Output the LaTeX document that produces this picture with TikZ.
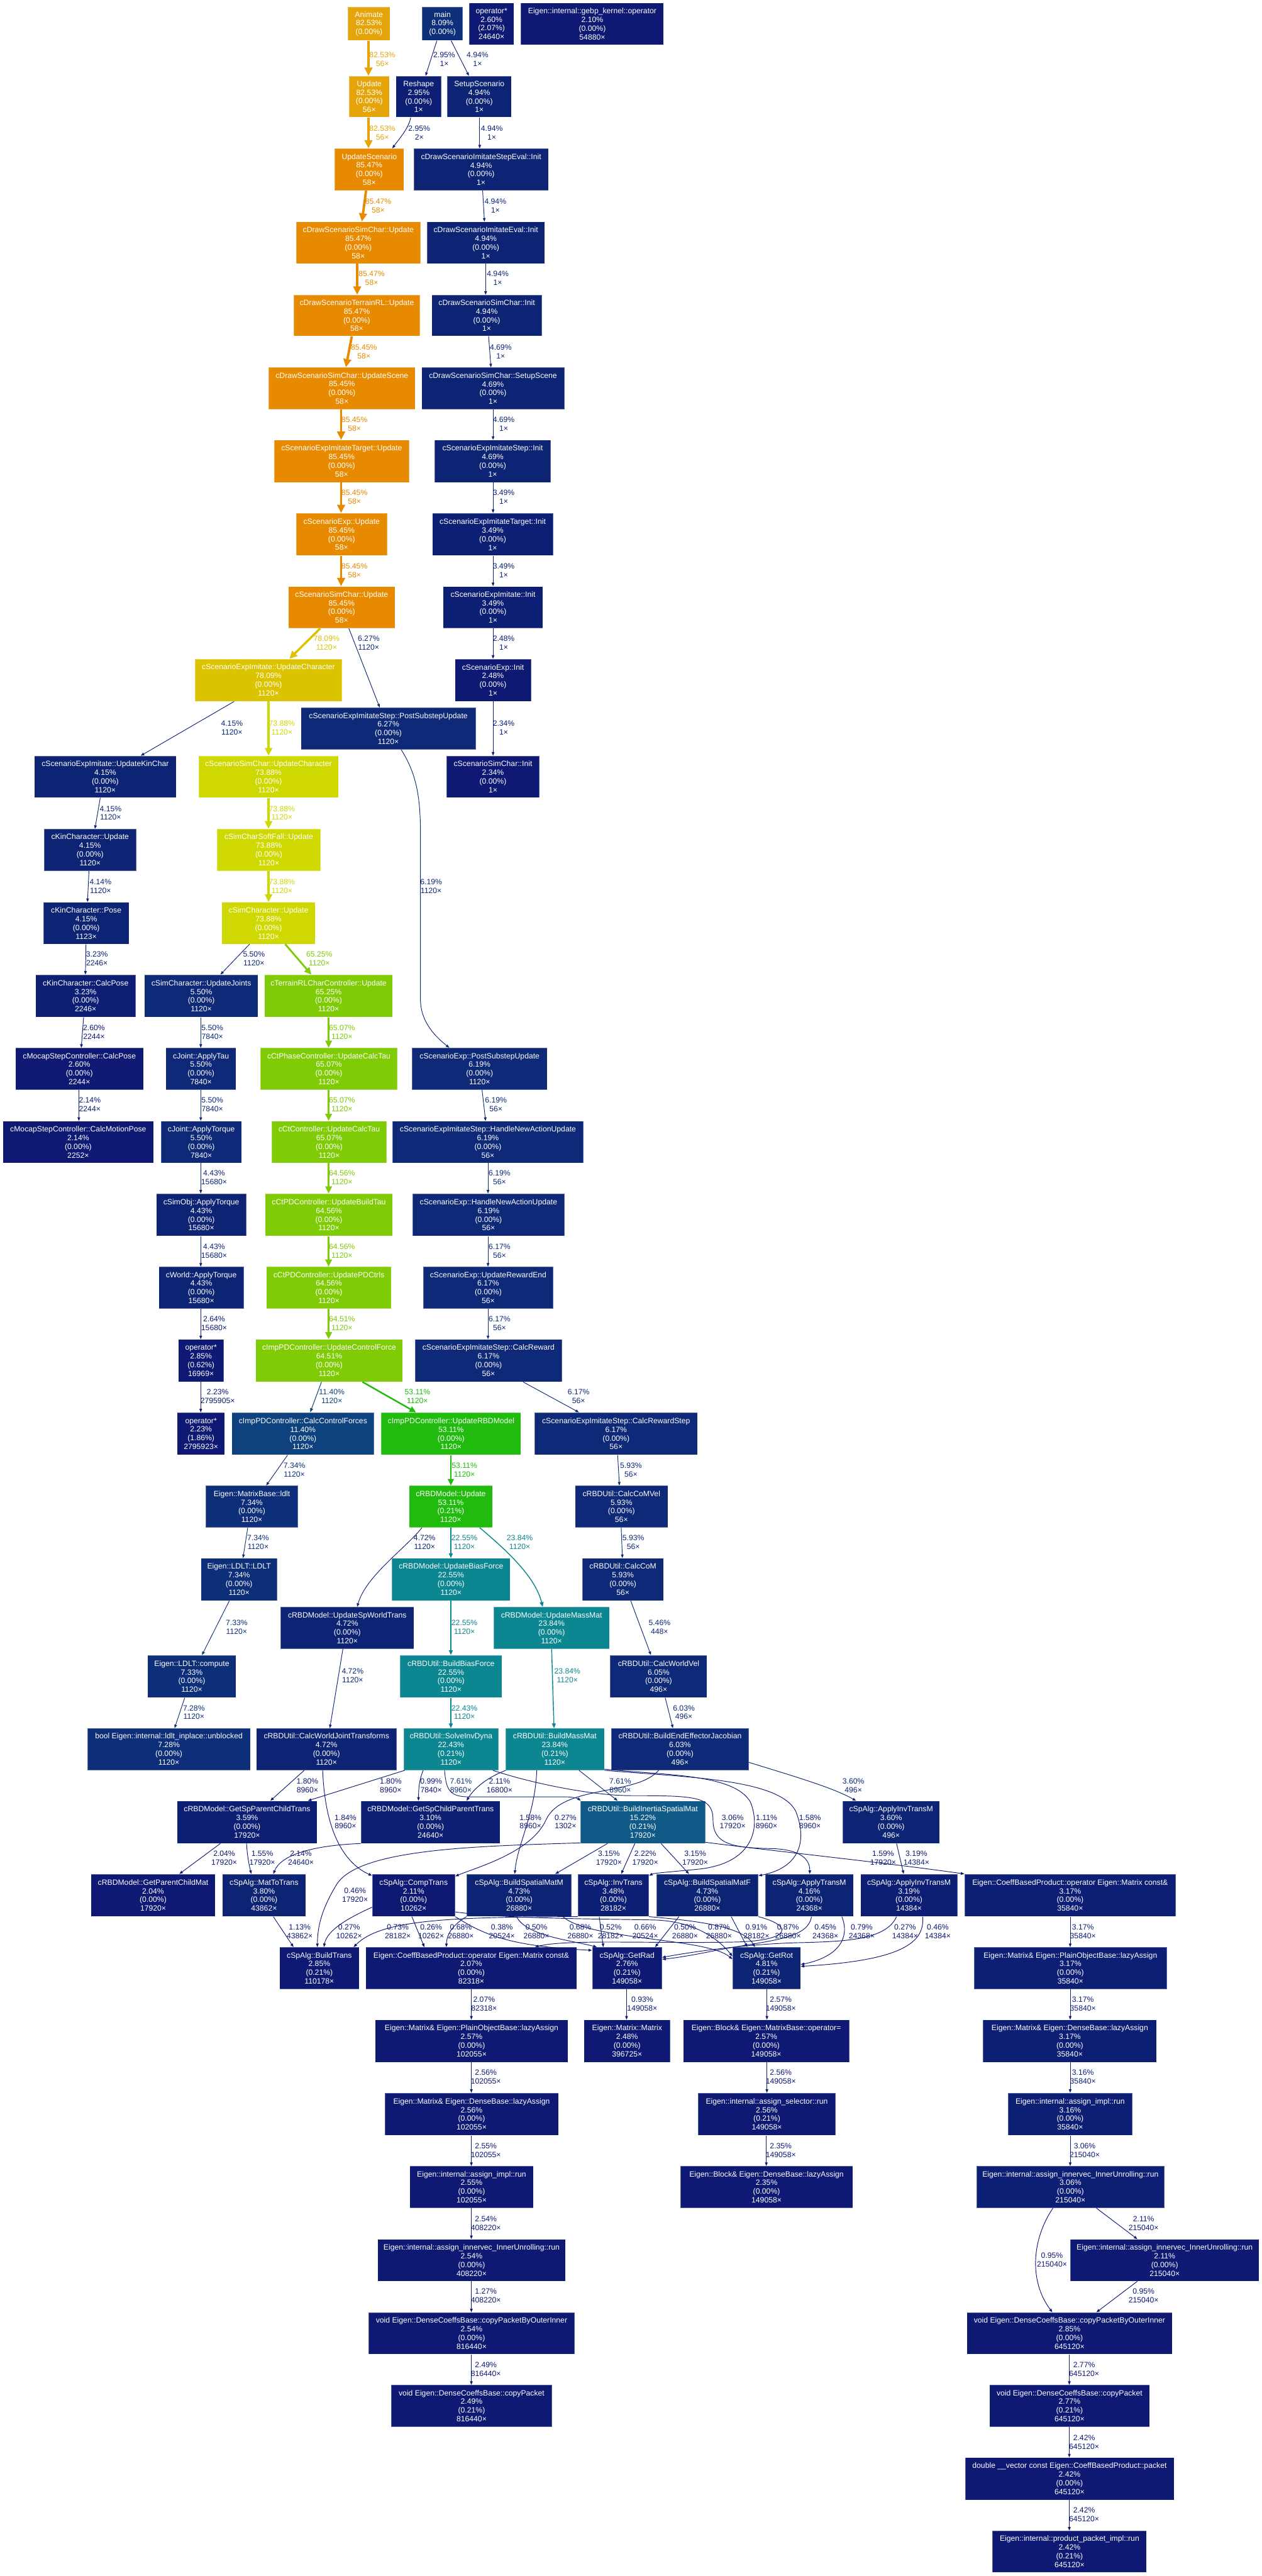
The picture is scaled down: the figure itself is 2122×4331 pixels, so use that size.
\documentclass[tikz,border=0pt]{standalone}
\usepackage{fontspec}
\setmainfont{Liberation Sans}
\usetikzlibrary{arrows.meta}
\definecolor{c82}{HTML}{E5A50A}
\definecolor{c85}{HTML}{E88A00}
\definecolor{c78}{HTML}{DCC300}
\definecolor{c74}{HTML}{CFD800}
\definecolor{c65}{HTML}{7FCB05}
\definecolor{c53}{HTML}{20BB0C}
\definecolor{c23}{HTML}{0C8690}
\definecolor{c15}{HTML}{0F5A86}
\definecolor{c11}{HTML}{0E427E}
\definecolor{cA}{HTML}{0D2F79}
\definecolor{cB}{HTML}{0D2977}
\definecolor{cC}{HTML}{0D2475}
\definecolor{cD}{HTML}{0D1F74}
\definecolor{cE}{HTML}{0D1973}
\newcommand\gfont{\fontsize{12.9}{14.7}\selectfont}
\newcommand\gtxt[4]{#1\\#2\%\\(#3\%)\\#4×}
\newcommand\gbox[7]{\node[gnode,fill=#6,minimum width={(#4-#2)*1pt},minimum height={(#5-#3)*1pt}] (#1) at ({(#2+#4)/2},{(#3+#5)/2}) {#7};}
\newcommand\glab[5]{\node[elab,text=#2] (#1) at (#3) {#4\%\\#5×};}
\tikzset{
 gnode/.style={rectangle,inner sep=0pt,text=white,align=center,font=\gfont,draw=white,draw opacity=0.3,line width=0.8pt},
 elab/.style={inner sep=0pt,align=center,font=\gfont},
 ej/.style={draw=#1,line width=1pt,-{Triangle[length=6pt,width=4.5pt]}},
 eA/.style={draw=c82,line width=3.8pt,-{Triangle[length=14pt,width=13pt]}},
 eB/.style={draw=c85,line width=4pt,-{Triangle[length=14pt,width=13pt]}},
 eC/.style={draw=c78,line width=3.6pt,-{Triangle[length=13pt,width=12pt]}},
 eD/.style={draw=c74,line width=3.4pt,-{Triangle[length=13pt,width=12pt]}},
 eE/.style={draw=c65,line width=3pt,-{Triangle[length=12pt,width=11pt]}},
 eF/.style={draw=c53,line width=2.6pt,-{Triangle[length=11pt,width=10pt]}},
 eG/.style={draw=c23,line width=1.5pt,-{Triangle[length=8pt,width=6.5pt]}},
 eH/.style={draw=c11,line width=1.1pt,-{Triangle[length=7pt,width=5pt]}},
}
\begin{document}
\begin{tikzpicture}[x=1pt,y=-1pt]
\fill[white] (0,0) rectangle (2122,4331);
\useasboundingbox (0,0) rectangle (2122,4331);
% ---------- nodes ----------
\gbox{nAnim}{585}{12}{656}{68}{c82}{Animate\\82.53\%\\(0.00\%)}
\gbox{nMain}{710}{12}{778}{68}{cA}{main\\8.09\%\\(0.00\%)}
\gbox{nOpA}{789}{5}{864}{75}{cE}{\gtxt{operator*}{2.60}{2.07}{24640}}
\gbox{nGebp}{876}{5}{1116}{75}{cE}{\gtxt{Eigen::internal::gebp\_kernel::operator}{2.10}{0.00}{54880}}
\gbox{nUpd}{587}{128}{655}{197}{c82}{\gtxt{Update}{82.53}{0.00}{56}}
\gbox{nResh}{666}{128}{742}{197}{cD}{\gtxt{Reshape}{2.95}{0.00}{1}}
\gbox{nSetup}{752}{128}{860}{197}{cC}{\gtxt{SetupScenario}{4.94}{0.00}{1}}
\gbox{nUpdSc}{563}{250}{679}{320}{c85}{\gtxt{UpdateScenario}{85.47}{0.00}{58}}
\gbox{nDSIE}{696}{250}{922}{320}{cC}{\gtxt{cDrawScenarioImitateStepEval::Init}{4.94}{0.00}{1}}
\gbox{nDSCU}{498}{373}{707}{443}{c85}{\gtxt{cDrawScenarioSimChar::Update}{85.47}{0.00}{58}}
\gbox{nDIE}{718}{373}{916}{443}{cC}{\gtxt{cDrawScenarioImitateEval::Init}{4.94}{0.00}{1}}
\gbox{nDTU}{494}{496}{706}{565}{c85}{\gtxt{cDrawScenarioTerrainRL::Update}{85.47}{0.00}{58}}
\gbox{nDSCI}{726}{496}{911}{565}{cC}{\gtxt{cDrawScenarioSimChar::Init}{4.94}{0.00}{1}}
\gbox{nDSUS}{452}{618}{698}{688}{c85}{\gtxt{cDrawScenarioSimChar::UpdateScene}{85.45}{0.00}{58}}
\gbox{nDSSS}{709}{618}{949}{688}{cC}{\gtxt{cDrawScenarioSimChar::SetupScene}{4.69}{0.00}{1}}
\gbox{nSEITU}{461}{740}{688}{811}{c85}{\gtxt{cScenarioExpImitateTarget::Update}{85.45}{0.00}{58}}
\gbox{nSEISI}{731}{740}{926}{811}{cC}{\gtxt{cScenarioExpImitateStep::Init}{4.69}{0.00}{1}}
\gbox{nSEU}{498}{863}{651}{934}{c85}{\gtxt{cScenarioExp::Update}{85.45}{0.00}{58}}
\gbox{nSEITI}{727}{863}{930}{934}{cD}{\gtxt{cScenarioExpImitateTarget::Init}{3.49}{0.00}{1}}
\gbox{nSSCU}{485}{986}{664}{1056}{c85}{\gtxt{cScenarioSimChar::Update}{85.45}{0.00}{58}}
\gbox{nSEII}{745}{986}{913}{1056}{cD}{\gtxt{cScenarioExpImitate::Init}{3.49}{0.00}{1}}
\gbox{nSEIUC}{328}{1108}{575}{1179}{c78}{\gtxt{cScenarioExpImitate::UpdateCharacter}{78.09}{0.00}{1120}}
\gbox{nSEI}{765}{1108}{893}{1179}{cE}{\gtxt{cScenarioExp::Init}{2.48}{0.00}{1}}
\gbox{nPSU}{506}{1190}{800}{1260}{cB}{\gtxt{cScenarioExpImitateStep::PostSubstepUpdate}{6.27}{0.00}{1120}}
\gbox{nUKC}{58}{1271}{296}{1341}{cC}{\gtxt{cScenarioExpImitate::UpdateKinChar}{4.15}{0.00}{1120}}
\gbox{nSSUC}{334}{1271}{569}{1341}{c74}{\gtxt{cScenarioSimChar::UpdateCharacter}{73.88}{0.00}{1120}}
\gbox{nSSI}{751}{1271}{907}{1341}{cE}{\gtxt{cScenarioSimChar::Init}{2.34}{0.00}{1}}
\gbox{nKCU}{74}{1394}{229}{1464}{cC}{\gtxt{cKinCharacter::Update}{4.15}{0.00}{1120}}
\gbox{nSCSF}{365}{1394}{539}{1464}{c74}{\gtxt{cSimCharSoftFall::Update}{73.88}{0.00}{1120}}
\gbox{nKCP}{73}{1517}{217}{1587}{cC}{\gtxt{cKinCharacter::Pose}{4.15}{0.00}{1123}}
\gbox{nSCU}{373}{1517}{530}{1587}{c74}{\gtxt{cSimCharacter::Update}{73.88}{0.00}{1120}}
\gbox{nKCCP}{60}{1639}{228}{1710}{cD}{\gtxt{cKinCharacter::CalcPose}{3.23}{0.00}{2246}}
\gbox{nSCUJ}{243}{1639}{434}{1710}{cB}{\gtxt{cSimCharacter::UpdateJoints}{5.50}{0.00}{1120}}
\gbox{nTRL}{445}{1639}{660}{1710}{c65}{\gtxt{cTerrainRLCharController::Update}{65.25}{0.00}{1120}}
\gbox{nMSCP}{26}{1762}{241}{1832}{cE}{\gtxt{cMocapStepController::CalcPose}{2.60}{0.00}{2244}}
\gbox{nJAT}{279}{1762}{397}{1832}{cB}{\gtxt{cJoint::ApplyTau}{5.50}{0.00}{7840}}
\gbox{nCPUCT}{438}{1762}{668}{1832}{c65}{\gtxt{cCtPhaseController::UpdateCalcTau}{65.07}{0.00}{1120}}
\gbox{nSEPSU}{693}{1762}{920}{1832}{cB}{\gtxt{cScenarioExp::PostSubstepUpdate}{6.19}{0.00}{1120}}
\gbox{nMSCMP}{5}{1885}{258}{1955}{cE}{\gtxt{cMocapStepController::CalcMotionPose}{2.14}{0.00}{2252}}
\gbox{nJATO}{271}{1885}{406}{1955}{cB}{\gtxt{cJoint::ApplyTorque}{5.50}{0.00}{7840}}
\gbox{nCCUCT}{457}{1885}{650}{1955}{c65}{\gtxt{cCtController::UpdateCalcTau}{65.07}{0.00}{1120}}
\gbox{nSEISH}{660}{1885}{981}{1955}{cB}{\gtxt{cScenarioExpImitateStep::HandleNewActionUpdate}{6.19}{0.00}{56}}
\gbox{nSOAT}{263}{2007}{414}{2078}{cC}{\gtxt{cSimObj::ApplyTorque}{4.43}{0.00}{15680}}
\gbox{nPDUBT}{446}{2007}{660}{2078}{c65}{\gtxt{cCtPDController::UpdateBuildTau}{64.56}{0.00}{1120}}
\gbox{nSEHN}{694}{2007}{949}{2078}{cB}{\gtxt{cScenarioExp::HandleNewActionUpdate}{6.19}{0.00}{56}}
\gbox{nWAT}{267}{2130}{410}{2200}{cC}{\gtxt{cWorld::ApplyTorque}{4.43}{0.00}{15680}}
\gbox{nPDUPC}{448}{2130}{658}{2200}{c65}{\gtxt{cCtPDController::UpdatePDCtrls}{64.56}{0.00}{1120}}
\gbox{nSEURE}{712}{2130}{930}{2200}{cB}{\gtxt{cScenarioExp::UpdateRewardEnd}{6.17}{0.00}{56}}
\gbox{nOpB}{300}{2252}{376}{2323}{cE}{\gtxt{operator*}{2.85}{0.62}{16969}}
\gbox{nIPUCF}{430}{2252}{677}{2323}{c65}{\gtxt{cImpPDController::UpdateControlForce}{64.51}{0.00}{1120}}
\gbox{nSEISCR}{698}{2252}{945}{2323}{cB}{\gtxt{cScenarioExpImitateStep::CalcReward}{6.17}{0.00}{56}}
\gbox{nOpC}{298}{2375}{378}{2446}{cE}{\gtxt{operator*}{2.23}{1.86}{2795923}}
\gbox{nIPCCF}{390}{2375}{629}{2446}{c11}{\gtxt{cImpPDController::CalcControlForces}{11.40}{0.00}{1120}}
\gbox{nIPURBD}{641}{2375}{876}{2446}{c53}{\gtxt{cImpPDController::UpdateRBDModel}{53.11}{0.00}{1120}}
\gbox{nCRS}{899}{2375}{1173}{2446}{cB}{\gtxt{cScenarioExpImitateStep::CalcRewardStep}{6.17}{0.00}{56}}
\gbox{nLdlt}{346}{2498}{501}{2568}{cA}{\gtxt{Eigen::MatrixBase::ldlt}{7.34}{0.00}{1120}}
\gbox{nRBDU}{688}{2498}{828}{2568}{c53}{\gtxt{cRBDModel::Update}{53.11}{0.21}{1120}}
\gbox{nCCMV}{967}{2498}{1123}{2568}{cB}{\gtxt{cRBDUtil::CalcCoMVel}{5.93}{0.00}{56}}
\gbox{nLDLT}{338}{2620}{466}{2691}{cA}{\gtxt{Eigen::LDLT::LDLT}{7.34}{0.00}{1120}}
\gbox{nUBF}{659}{2620}{858}{2691}{c23}{\gtxt{cRBDModel::UpdateBiasForce}{22.55}{0.00}{1120}}
\gbox{nCCM}{979}{2620}{1116}{2691}{cB}{\gtxt{cRBDUtil::CalcCoM}{5.93}{0.00}{56}}
\gbox{nUSWT}{472}{2702}{696}{2772}{cC}{\gtxt{cRBDModel::UpdateSpWorldTrans}{4.72}{0.00}{1120}}
\gbox{nUMM}{830}{2702}{1025}{2772}{c23}{\gtxt{cRBDModel::UpdateMassMat}{23.84}{0.00}{1120}}
\gbox{nComp}{248}{2783}{397}{2854}{cA}{\gtxt{Eigen::LDLT::compute}{7.33}{0.00}{1120}}
\gbox{nBBF}{673}{2783}{844}{2854}{c23}{\gtxt{cRBDUtil::BuildBiasForce}{22.55}{0.00}{1120}}
\gbox{nCWV}{1026}{2783}{1189}{2854}{cB}{\gtxt{cRBDUtil::CalcWorldVel}{6.05}{0.00}{496}}
\gbox{nUnb}{147}{2906}{421}{2976}{cA}{\gtxt{bool Eigen::internal::ldlt\_inplace::unblocked}{7.28}{0.00}{1120}}
\gbox{nCWJT}{431}{2906}{667}{2976}{cC}{\gtxt{cRBDUtil::CalcWorldJointTransforms}{4.72}{0.00}{1120}}
\gbox{nSID}{679}{2906}{838}{2976}{c23}{\gtxt{cRBDUtil::SolveInvDyna}{22.43}{0.21}{1120}}
\gbox{nBMM}{850}{2906}{1016}{2976}{c23}{\gtxt{cRBDUtil::BuildMassMat}{23.84}{0.21}{1120}}
\gbox{nBEEJ}{1028}{2906}{1259}{2976}{cB}{\gtxt{cRBDUtil::BuildEndEffectorJacobian}{6.03}{0.00}{496}}
\gbox{nGSPCT}{298}{3028}{533}{3099}{cD}{\gtxt{cRBDModel::GetSpParentChildTrans}{3.59}{0.00}{17920}}
\gbox{nGSCPT}{607}{3028}{841}{3099}{cD}{\gtxt{cRBDModel::GetSpChildParentTrans}{3.10}{0.00}{24640}}
\gbox{nBISM}{976}{3028}{1186}{3099}{c15}{\gtxt{cRBDUtil::BuildInertiaSpatialMat}{15.22}{0.21}{17920}}
\gbox{nAITMa}{1417}{3028}{1580}{3099}{cC}{\gtxt{cSpAlg::ApplyInvTransM}{3.60}{0.00}{496}}
\gbox{nGPCM}{153}{3151}{362}{3222}{cE}{\gtxt{cRBDModel::GetParentChildMat}{2.04}{0.00}{17920}}
\gbox{nMTT}{374}{3151}{514}{3222}{cC}{\gtxt{cSpAlg::MatToTrans}{3.80}{0.00}{43862}}
\gbox{nCT}{626}{3151}{765}{3222}{cE}{\gtxt{cSpAlg::CompTrans}{2.11}{0.00}{10262}}
\gbox{nBSMM}{785}{3151}{961}{3222}{cC}{\gtxt{cSpAlg::BuildSpatialMatM}{4.73}{0.00}{26880}}
\gbox{nIT}{972}{3151}{1091}{3222}{cD}{\gtxt{cSpAlg::InvTrans}{3.48}{0.00}{28182}}
\gbox{nBSMF}{1104}{3151}{1275}{3222}{cC}{\gtxt{cSpAlg::BuildSpatialMatF}{4.73}{0.00}{26880}}
\gbox{nATM}{1287}{3151}{1435}{3222}{cC}{\gtxt{cSpAlg::ApplyTransM}{4.16}{0.00}{24368}}
\gbox{nAITMb}{1447}{3151}{1610}{3222}{cD}{\gtxt{cSpAlg::ApplyInvTransM}{3.19}{0.00}{14384}}
\gbox{nCBPR}{1622}{3151}{1977}{3222}{cD}{\gtxt{Eigen::CoeffBasedProduct::operator Eigen::Matrix const\&}{3.17}{0.00}{35840}}
\gbox{nBT}{470}{3274}{604}{3344}{cE}{\gtxt{cSpAlg::BuildTrans}{2.85}{0.21}{110178}}
\gbox{nCBPL}{615}{3274}{970}{3344}{cE}{\gtxt{Eigen::CoeffBasedProduct::operator Eigen::Matrix const\&}{2.07}{0.00}{82318}}
\gbox{nGRad}{996}{3274}{1113}{3344}{cE}{\gtxt{cSpAlg::GetRad}{2.76}{0.21}{149058}}
\gbox{nGRot}{1232}{3274}{1346}{3344}{cC}{\gtxt{cSpAlg::GetRot}{4.81}{0.21}{149058}}
\gbox{nPLAR}{1638}{3274}{1962}{3344}{cD}{\gtxt{Eigen::Matrix\& Eigen::PlainObjectBase::lazyAssign}{3.17}{0.00}{35840}}
\gbox{nPLAL}{631}{3396}{955}{3467}{cE}{\gtxt{Eigen::Matrix\& Eigen::PlainObjectBase::lazyAssign}{2.57}{0.00}{102055}}
\gbox{nMM}{982}{3396}{1127}{3467}{cE}{\gtxt{Eigen::Matrix::Matrix}{2.48}{0.00}{396725}}
\gbox{nBOP}{1149}{3396}{1428}{3467}{cE}{\gtxt{Eigen::Block\& Eigen::MatrixBase::operator=}{2.57}{0.00}{149058}}
\gbox{nDLAR}{1653}{3396}{1945}{3467}{cD}{\gtxt{Eigen::Matrix\& Eigen::DenseBase::lazyAssign}{3.17}{0.00}{35840}}
\gbox{nDLAL}{647}{3519}{939}{3590}{cE}{\gtxt{Eigen::Matrix\& Eigen::DenseBase::lazyAssign}{2.56}{0.00}{102055}}
\gbox{nASel}{1174}{3519}{1405}{3590}{cE}{\gtxt{Eigen::internal::assign\_selector::run}{2.56}{0.21}{149058}}
\gbox{nAIR}{1695}{3519}{1904}{3590}{cD}{\gtxt{Eigen::internal::assign\_impl::run}{3.16}{0.00}{35840}}
\gbox{nAIL}{689}{3642}{897}{3712}{cE}{\gtxt{Eigen::internal::assign\_impl::run}{2.55}{0.00}{102055}}
\gbox{nBLaz}{1144}{3642}{1434}{3712}{cE}{\gtxt{Eigen::Block\& Eigen::DenseBase::lazyAssign}{2.35}{0.00}{149058}}
\gbox{nIUR1}{1642}{3642}{1958}{3712}{cD}{\gtxt{Eigen::internal::assign\_innervec\_InnerUnrolling::run}{3.06}{0.00}{215040}}
\gbox{nIUL}{635}{3765}{951}{3835}{cE}{\gtxt{Eigen::internal::assign\_innervec\_InnerUnrolling::run}{2.54}{0.00}{408220}}
\gbox{nIUR2}{1800}{3765}{2117}{3835}{cE}{\gtxt{Eigen::internal::assign\_innervec\_InnerUnrolling::run}{2.11}{0.00}{215040}}
\gbox{nCPOIL}{620}{3888}{966}{3958}{cE}{\gtxt{void Eigen::DenseCoeffsBase::copyPacketByOuterInner}{2.54}{0.00}{816440}}
\gbox{nCPOIR}{1626}{3888}{1971}{3958}{cE}{\gtxt{void Eigen::DenseCoeffsBase::copyPacketByOuterInner}{2.85}{0.00}{645120}}
\gbox{nCPL}{658}{4010}{928}{4080}{cE}{\gtxt{void Eigen::DenseCoeffsBase::copyPacket}{2.49}{0.21}{816440}}
\gbox{nCPR}{1664}{4010}{1933}{4080}{cE}{\gtxt{void Eigen::DenseCoeffsBase::copyPacket}{2.77}{0.21}{645120}}
\gbox{nPkt}{1623}{4132}{1974}{4203}{cE}{\gtxt{double \_\_vector const Eigen::CoeffBasedProduct::packet}{2.42}{0.00}{645120}}
\gbox{nPPI}{1669}{4255}{1928}{4325}{cE}{\gtxt{Eigen::internal::product\_packet\_impl::run}{2.42}{0.21}{645120}}
% ---------- edges ----------
\draw[eA] ([xshift=35pt]nAnim.south west) -- ([xshift=33pt]nUpd.north west);
\draw[eA] ([xshift=33pt]nUpd.south west) -- ([xshift=57pt]nUpdSc.north west);
\draw[ej=cD] ([xshift=25pt]nMain.south west) -- ([xshift=50pt]nResh.north west);
\draw[ej=cC] ([xshift=49pt]nMain.south west) -- ([xshift=37pt]nSetup.north west);
\draw[ej=cD] ([xshift=25pt]nResh.south west) .. controls (688,215) and (670,235) .. ([xshift=97pt]nUpdSc.north west);
\draw[ej=cC] ([xshift=55pt]nSetup.south west) -- ([xshift=111pt]nDSIE.north west);
\draw[eB] ([xshift=53pt]nUpdSc.south west) -- ([xshift=111pt]nDSCU.north west);
\draw[ej=cC] ([xshift=116pt]nDSIE.south west) -- ([xshift=97pt]nDIE.north west);
\draw[eB] ([xshift=103pt]nDSCU.south west) -- ([xshift=107pt]nDTU.north west);
\draw[ej=cC] ([xshift=99pt]nDIE.south west) -- ([xshift=91pt]nDSCI.north west);
\draw[eB] ([xshift=98pt]nDTU.south west) -- ([xshift=130pt]nDSUS.north west);
\draw[ej=cC] ([xshift=96pt]nDSCI.south west) -- ([xshift=117pt]nDSSS.north west);
\draw[eB] ([xshift=122pt]nDSUS.south west) -- ([xshift=113pt]nSEITU.north west);
\draw[ej=cC] ([xshift=120.5pt]nDSSS.south west) -- ([xshift=98.5pt]nSEISI.north west);
\draw[eB] ([xshift=113pt]nSEITU.south west) -- ([xshift=76pt]nSEU.north west);
\draw[ej=cD] ([xshift=98.5pt]nSEISI.south west) -- ([xshift=102.5pt]nSEITI.north west);
\draw[eB] ([xshift=76pt]nSEU.south west) -- ([xshift=89pt]nSSCU.north west);
\draw[ej=cD] ([xshift=102.5pt]nSEITI.south west) -- ([xshift=84.5pt]nSEII.north west);
\draw[eC] ([xshift=54pt]nSSCU.south west) -- ([xshift=159pt]nSEIUC.north west);
\draw[ej=cB] ([xshift=102pt]nSSCU.south west) -- ([xshift=133pt]nPSU.north west);
\draw[ej=cE] ([xshift=84.5pt]nSEII.south west) -- ([xshift=64.5pt]nSEI.north west);
\draw[ej=cC] ([xshift=66pt]nSEIUC.south west) -- ([xshift=179pt]nUKC.north west);
\draw[eD] ([xshift=124pt]nSEIUC.south west) -- ([xshift=118pt]nSSUC.north west);
\draw[ej=cE] ([xshift=64.5pt]nSEI.south west) -- ([xshift=78.5pt]nSSI.north west);
\draw[ej=cB] ([xshift=169pt]nPSU.south west) .. controls (700,1300) and (707,1340) .. (707,1400) -- (707,1680) .. controls (707,1720) and (735,1745) .. ([xshift=63pt]nSEPSU.north west);
\draw[ej=cC] ([xshift=111pt]nUKC.south west) -- ([xshift=86pt]nKCU.north west);
\draw[eD] ([xshift=118pt]nSSUC.south west) -- ([xshift=87pt]nSCSF.north west);
\draw[ej=cC] ([xshift=76pt]nKCU.south west) -- ([xshift=74.5pt]nKCP.north west);
\draw[eD] ([xshift=87pt]nSCSF.south west) -- ([xshift=79pt]nSCU.north west);
\draw[ej=cD] ([xshift=72pt]nKCP.south west) -- ([xshift=84pt]nKCCP.north west);
\draw[ej=cB] ([xshift=47pt]nSCU.south west) -- ([xshift=128pt]nSCUJ.north west);
\draw[eE] ([xshift=107pt]nSCU.south west) -- ([xshift=79pt]nTRL.north west);
\draw[ej=cE] ([xshift=81pt]nKCCP.south west) -- ([xshift=111pt]nMSCP.north west);
\draw[ej=cB] ([xshift=95pt]nSCUJ.south west) -- ([xshift=59pt]nJAT.north west);
\draw[eE] ([xshift=108pt]nTRL.south west) -- ([xshift=115pt]nCPUCT.north west);
\draw[ej=cE] ([xshift=107pt]nMSCP.south west) -- ([xshift=128pt]nMSCMP.north west);
\draw[ej=cB] ([xshift=59pt]nJAT.south west) -- ([xshift=67pt]nJATO.north west);
\draw[eE] ([xshift=115pt]nCPUCT.south west) -- ([xshift=96pt]nCCUCT.north west);
\draw[ej=cB] ([xshift=118pt]nSEPSU.south west) -- ([xshift=157pt]nSEISH.north west);
\draw[ej=cC] ([xshift=67pt]nJATO.south west) -- ([xshift=75pt]nSOAT.north west);
\draw[eE] ([xshift=96pt]nCCUCT.south west) -- ([xshift=107pt]nPDUBT.north west);
\draw[ej=cB] ([xshift=161pt]nSEISH.south west) -- ([xshift=127pt]nSEHN.north west);
\draw[ej=cC] ([xshift=75pt]nSOAT.south west) -- ([xshift=71pt]nWAT.north west);
\draw[eE] ([xshift=107pt]nPDUBT.south west) -- ([xshift=105pt]nPDUPC.north west);
\draw[ej=cB] ([xshift=127pt]nSEHN.south west) -- ([xshift=109pt]nSEURE.north west);
\draw[ej=cE] ([xshift=71pt]nWAT.south west) -- ([xshift=38pt]nOpB.north west);
\draw[eE] ([xshift=105pt]nPDUPC.south west) -- ([xshift=123pt]nIPUCF.north west);
\draw[ej=cB] ([xshift=109pt]nSEURE.south west) -- ([xshift=123pt]nSEISCR.north west);
\draw[ej=cE] ([xshift=38pt]nOpB.south west) -- ([xshift=40pt]nOpC.north west);
\draw[eH] ([xshift=111pt]nIPUCF.south west) -- ([xshift=132pt]nIPCCF.north west);
\draw[eF] ([xshift=180pt]nIPUCF.south west) -- ([xshift=59pt]nIPURBD.north west);
\draw[ej=cB] ([xshift=182pt]nSEISCR.south west) -- ([xshift=75pt]nCRS.north west);
\draw[ej=cA] ([xshift=94pt]nIPCCF.south west) -- ([xshift=102pt]nLdlt.north west);
\draw[eF] ([xshift=117.5pt]nIPURBD.south west) -- ([xshift=70.5pt]nRBDU.north west);
\draw[ej=cB] ([xshift=140pt]nCRS.south west) -- ([xshift=75pt]nCCMV.north west);
\draw[ej=cA] ([xshift=71pt]nLdlt.south west) -- ([xshift=71pt]nLDLT.north west);
\draw[ej=cC] ([xshift=22pt]nRBDU.south west) .. controls (680,2605) and (615,2650) .. ([xshift=129pt]nUSWT.north west);
\draw[eG] ([xshift=70.5pt]nRBDU.south west) -- ([xshift=99.5pt]nUBF.north west);
\draw[eG] ([xshift=119pt]nRBDU.south west) .. controls (850,2605) and (900,2650) .. ([xshift=83pt]nUMM.north west);
\draw[ej=cB] ([xshift=78pt]nCCMV.south west) -- ([xshift=68pt]nCCM.north west);
\draw[ej=cA] ([xshift=48pt]nLDLT.south west) -- ([xshift=92pt]nComp.north west);
\draw[eG] ([xshift=99.5pt]nUBF.south west) -- ([xshift=85.5pt]nBBF.north west);
\draw[ej=cB] ([xshift=82pt]nCCM.south west) -- ([xshift=69pt]nCWV.north west);
\draw[ej=cA] ([xshift=63pt]nComp.south west) -- ([xshift=147pt]nUnb.north west);
\draw[ej=cC] ([xshift=105pt]nUSWT.south west) -- ([xshift=124pt]nCWJT.north west);
\draw[eG] ([xshift=85.5pt]nBBF.south west) -- ([xshift=79.5pt]nSID.north west);
\draw[eG] ([xshift=98pt]nUMM.south west) -- ([xshift=82pt]nBMM.north west);
\draw[ej=cB] ([xshift=93pt]nCWV.south west) -- ([xshift=104pt]nBEEJ.north west);
% tangle
\draw[ej=cE] ([xshift=81pt]nCWJT.south west) -- ([xshift=157pt]nGSPCT.north west);
\draw[ej=cE] ([xshift=2pt]nSID.south west) -- ([xshift=220pt]nGSPCT.north west);
\draw[ej=cE] ([xshift=112pt]nCWJT.south west) .. controls (547,3090) and (585,3135) .. ([yshift=-3pt]nCT.north west);
\draw[ej=cE] ([xshift=33pt]nSID.south west) .. controls (704,2995) and (704,3010) .. ([xshift=97pt]nGSCPT.north west);
\draw[ej=cA] ([xshift=69pt]nSID.south west) .. controls (750,3012) and (758,3021) .. (790,3021) -- (950,3021) .. controls (965,3021) and (972,3024) .. ([xshift=1pt]nBISM.north west);
\draw[ej=cE] ([xshift=1pt]nBMM.south west) .. controls (815,2990) and (795,3010) .. ([xshift=178pt]nGSCPT.north west);
\draw[ej=cA] ([xshift=124pt]nBMM.south west) -- ([xshift=63pt]nBISM.north west);
\draw[ej=cE] ([xshift=53pt]nBMM.south west) .. controls (900,3050) and (870,3100) .. ([xshift=81pt]nBSMM.north west);
\draw[ej=cE] ([xshift=80pt]nBEEJ.south west) .. controls (1070,3020) and (945,3000) .. (918,3060) .. controls (893,3115) and (800,3140) .. ([yshift=-4pt]nCT.north east);
\draw[ej=cD] ([xshift=150pt]nSID.south west) .. controls (900,3000) and (1000,3019) .. (1061,3019) .. controls (1170,3019) and (1199,3020) .. (1199,3060) .. controls (1199,3100) and (1230,3107) .. (1300,3108) .. controls (1345,3110) and (1362,3125) .. ([xshift=75pt]nATM.north west);
\draw[ej=cE] ([yshift=2pt]nBMM.south east) .. controls (1120,2985) and (1235,2982) .. (1262,3030) .. controls (1280,3075) and (1265,3135) .. (1170,3143) .. controls (1130,3147) and (1100,3149) .. ([yshift=-3pt]nIT.north east);
\draw[ej=cE] (nBMM.south east) .. controls (1150,2988) and (1310,2990) .. (1338,3045) .. controls (1358,3095) and (1345,3140) .. ([yshift=-3pt]nBSMF.north east);
\draw[ej=cE] ([xshift=73pt]nGSPCT.south west) -- ([xshift=149pt]nGPCM.north west);
\draw[ej=cE] ([xshift=117pt]nGSPCT.south west) .. controls (416,3125) and (420,3140) .. ([xshift=49pt]nMTT.north west);
\draw[ej=cE] (nGSCPT.south west) .. controls (520,3103) and (472,3120) .. ([xshift=86pt]nMTT.north west);
\draw[ej=cD] ([xshift=46pt]nBISM.south west) -- ([xshift=149pt]nBSMM.north west);
\draw[ej=cE] ([xshift=92pt]nBISM.south west) -- ([xshift=73pt]nIT.north west);
\draw[ej=cD] ([xshift=136pt]nBISM.south west) -- ([xshift=55pt]nBSMF.north west);
\draw[ej=cE] ([yshift=2pt]nBISM.south east) .. controls (1300,3112) and (1500,3133) .. (nCBPR.north west);
\draw[ej=cD] ([xshift=91pt]nAITMa.south west) -- ([xshift=73pt]nAITMb.north west);
\draw[ej=cC] ([yshift=-22pt]nBEEJ.east) .. controls (1330,2985) and (1400,3005) .. ([xshift=23pt]nAITMa.north west);
\draw[ej=cE] ([yshift=1pt]nBISM.south west) .. controls (800,3104) and (600,3108) .. (565,3170) .. controls (540,3212) and (534,3240) .. ([xshift=64pt]nBT.north west);
\draw[ej=cE] ([xshift=86pt]nMTT.south west) -- ([xshift=24pt]nBT.north west);
\draw[ej=cE] ([yshift=-20pt]nCT.west) .. controls (585,3225) and (550,3245) .. ([xshift=75pt]nBT.north west);
\draw[ej=cE] (nIT.south west) .. controls (750,3223) and (640,3228) .. ([xshift=125pt]nBT.north west);
\draw[ej=cE] ([xshift=67pt]nCT.south west) -- ([xshift=99pt]nCBPL.north west);
\draw[ej=cE] (nBSMM.south west) .. controls (758,3238) and (751,3255) .. ([xshift=136pt]nCBPL.north west);
\draw[ej=cE] (nCT.south east) .. controls (810,3250) and (850,3272) .. ([yshift=30pt]nGRad.west);
\draw[ej=cE] ([xshift=84pt]nBSMM.south west) .. controls (885,3255) and (960,3262) .. ([xshift=8pt]nGRad.north west);
\draw[ej=cE] ([xshift=162pt]nBSMM.south west) .. controls (990,3262) and (1190,3258) .. ([yshift=15pt]nGRot.west);
\draw[ej=cE] ([xshift=36pt]nIT.south west) -- ([xshift=19pt]nGRad.north west);
\draw[ej=cE] ([yshift=-28pt]nCT.east) .. controls (850,3226) and (1000,3226) .. (1100,3228) .. controls (1170,3230) and (1210,3262) .. ([yshift=20pt]nGRot.west);
\draw[ej=cE] ([xshift=38pt]nBSMF.south west) -- ([xshift=106pt]nGRad.north west);
\draw[ej=cE] ([xshift=126pt]nBSMF.south west) -- ([xshift=25pt]nGRot.north west);
\draw[ej=cE] (nIT.south east) .. controls (1180,3230) and (1250,3240) .. ([xshift=38pt]nGRot.north west);
\draw[ej=cE] (nBSMF.south east) .. controls (1335,3238) and (1330,3262) .. (1240,3265) .. controls (1100,3268) and (950,3260) .. ([xshift=285pt]nCBPL.north west);
\draw[ej=cE] ([xshift=78pt]nATM.south west) .. controls (1358,3262) and (1290,3262) .. (1200,3280) .. controls (1160,3288) and (1135,3292) .. ([yshift=15pt]nGRad.east);
\draw[ej=cE] ([xshift=129pt]nATM.south west) .. controls (1430,3258) and (1410,3290) .. ([yshift=6pt]nGRot.east);
\draw[ej=cE] ([xshift=61pt]nAITMb.south west) .. controls (1490,3262) and (1420,3264) .. (1350,3266) .. controls (1250,3268) and (1150,3284) .. ([yshift=18pt]nGRad.east);
\draw[ej=cE] ([xshift=105pt]nAITMb.south west) .. controls (1555,3265) and (1520,3296) .. ([yshift=3pt]nGRot.east);
\draw[ej=cD] ([xshift=178pt]nCBPR.south west) -- ([xshift=162pt]nPLAR.north west);
% lower
\draw[ej=cE] ([xshift=178pt]nCBPL.south west) -- ([xshift=162pt]nPLAL.north west);
\draw[ej=cE] ([xshift=58pt]nGRad.south west) -- ([xshift=72pt]nMM.north west);
\draw[ej=cE] ([xshift=58pt]nGRot.south west) -- ([xshift=141pt]nBOP.north west);
\draw[ej=cD] ([xshift=162pt]nPLAR.south west) -- ([xshift=147pt]nDLAR.north west);
\draw[ej=cE] ([xshift=162pt]nPLAL.south west) -- ([xshift=146pt]nDLAL.north west);
\draw[ej=cE] ([xshift=141pt]nBOP.south west) -- ([xshift=116pt]nASel.north west);
\draw[ej=cD] ([xshift=147pt]nDLAR.south west) -- ([xshift=105pt]nAIR.north west);
\draw[ej=cE] ([xshift=146pt]nDLAL.south west) -- ([xshift=104pt]nAIL.north west);
\draw[ej=cE] ([xshift=115pt]nASel.south west) -- ([xshift=145pt]nBLaz.north west);
\draw[ej=cD] ([xshift=105pt]nAIR.south west) -- ([xshift=158pt]nIUR1.north west);
\draw[ej=cE] ([xshift=104pt]nAIL.south west) -- ([xshift=158pt]nIUL.north west);
\draw[ej=cE] ([xshift=202pt]nIUR1.south west) -- ([xshift=113pt]nIUR2.north west);
\draw[ej=cE] ([xshift=129pt]nIUR1.south west) .. controls (1735,3765) and (1730,3835) .. ([xshift=144pt]nCPOIR.north west);
\draw[ej=cE] ([xshift=158pt]nIUL.south west) -- ([xshift=173pt]nCPOIL.north west);
\draw[ej=cE] ([xshift=113pt]nIUR2.south west) -- ([xshift=218pt]nCPOIR.north west);
\draw[ej=cE] ([xshift=173pt]nCPOIL.south west) -- ([xshift=135pt]nCPL.north west);
\draw[ej=cE] ([xshift=172.5pt]nCPOIR.south west) -- ([xshift=134.5pt]nCPR.north west);
\draw[ej=cE] ([xshift=134.5pt]nCPR.south west) -- ([xshift=175.5pt]nPkt.north west);
\draw[ej=cE] ([xshift=175.5pt]nPkt.south west) -- ([xshift=129.5pt]nPPI.north west);
% ---------- labels ----------
\glab{l1}{c82}{643,100}{82.53}{56}
\glab{l2}{c82}{643,223}{82.53}{56}
\glab{l3}{cD}{747,100}{2.95}{1}
\glab{l4}{cC}{803,100}{4.94}{1}
\glab{l5}{cD}{705,223}{2.95}{2}
\glab{l6}{cC}{827,223}{4.94}{1}
\glab{l7}{c85}{636,346}{85.47}{58}
\glab{l8}{cC}{833,346}{4.94}{1}
\glab{l9}{c85}{625,468}{85.47}{58}
\glab{l10}{cC}{837,468}{4.94}{1}
\glab{l11}{c85}{612,591}{85.45}{58}
\glab{l12}{cC}{842,591}{4.69}{1}
\glab{l13}{c85}{596,713}{85.45}{58}
\glab{l14}{cC}{847,713}{4.69}{1}
\glab{l15}{c85}{596,836}{85.45}{58}
\glab{l16}{cD}{847,836}{3.49}{1}
\glab{l17}{c85}{596,959}{85.45}{58}
\glab{l18}{cD}{847,959}{3.49}{1}
\glab{l19}{c78}{549,1081}{78.09}{1120}
\glab{l20}{cB}{620,1081}{6.27}{1120}
\glab{l21}{cE}{847,1081}{2.48}{1}
\glab{l22}{cC}{390,1224}{4.15}{1120}
\glab{l23}{c74}{474,1224}{73.88}{1120}
\glab{l24}{cE}{847,1224}{2.34}{1}
\glab{l25}{cB}{725,1490}{6.19}{1120}
\glab{l26}{cC}{186,1367}{4.15}{1120}
\glab{l27}{c74}{474,1367}{73.88}{1120}
\glab{l28}{cC}{169,1490}{4.14}{1120}
\glab{l29}{c74}{474,1490}{73.88}{1120}
\glab{l30}{cD}{163,1612}{3.23}{2246}
\glab{l31}{cB}{427,1612}{5.50}{1120}
\glab{l32}{c65}{537,1612}{65.25}{1120}
\glab{l33}{cE}{158,1735}{2.60}{2244}
\glab{l34}{cB}{357,1735}{5.50}{7840}
\glab{l35}{c65}{575,1735}{65.07}{1120}
\glab{l36}{cE}{151,1857}{2.14}{2244}
\glab{l37}{cB}{357,1857}{5.50}{7840}
\glab{l38}{c65}{575,1857}{65.07}{1120}
\glab{l39}{cB}{834,1857}{6.19}{56}
\glab{l40}{cC}{360,1980}{4.43}{15680}
\glab{l41}{c65}{575,1980}{64.56}{1120}
\glab{l42}{cB}{840,1980}{6.19}{56}
\glab{l43}{cC}{360,2103}{4.43}{15680}
\glab{l44}{c65}{575,2103}{64.56}{1120}
\glab{l45}{cB}{840,2103}{6.17}{56}
\glab{l46}{cE}{360,2225}{2.64}{15680}
\glab{l47}{c65}{575,2225}{64.51}{1120}
\glab{l48}{cB}{840,2225}{6.17}{56}
\glab{l49}{cE}{366,2348}{2.23}{2795905}
\glab{l50}{c11}{558,2348}{11.40}{1120}
\glab{l51}{c53}{702,2348}{53.11}{1120}
\glab{l52}{cB}{973,2348}{6.17}{56}
\glab{l53}{cA}{495,2471}{7.34}{1120}
\glab{l54}{c53}{781,2471}{53.11}{1120}
\glab{l55}{cB}{1061,2471}{5.93}{56}
\glab{l56}{cA}{434,2593}{7.34}{1120}
\glab{l57}{cC}{714,2593}{4.72}{1120}
\glab{l58}{c23}{781,2593}{22.55}{1120}
\glab{l59}{c23}{874,2593}{23.84}{1120}
\glab{l60}{cB}{1065,2593}{5.93}{56}
\glab{l61}{cA}{398,2736}{7.33}{1120}
\glab{l62}{c23}{781,2736}{22.55}{1120}
\glab{l63}{cB}{1109,2736}{5.46}{448}
\glab{l64}{cA}{326,2879}{7.28}{1120}
\glab{l65}{cC}{593,2817}{4.72}{1120}
\glab{l66}{c23}{781,2879}{22.43}{1120}
\glab{l67}{c23}{954,2817}{23.84}{1120}
\glab{l68}{cB}{1150,2879}{6.03}{496}
\glab{l69}{cE}{517,3002}{1.80}{8960}
\glab{l70}{cE}{657,3002}{1.80}{8960}
\glab{l71}{cE}{581,3063}{1.84}{8960}
\glab{l72}{cE}{725,3002}{0.99}{7840}
\glab{l73}{cA}{775,3002}{7.61}{8960}
\glab{l74}{cE}{840,3002}{2.11}{16800}
\glab{l75}{cA}{1043,3002}{7.61}{8960}
\glab{l76}{cE}{892,3063}{1.58}{8960}
\glab{l77}{cE}{951,3063}{0.27}{1302}
\glab{l78}{cD}{1232,3063}{3.06}{17920}
\glab{l79}{cE}{1289,3063}{1.11}{8960}
\glab{l80}{cE}{1362,3063}{1.58}{8960}
\glab{l81}{cE}{377,3124}{2.04}{17920}
\glab{l82}{cE}{441,3124}{1.55}{17920}
\glab{l83}{cE}{506,3124}{2.14}{24640}
\glab{l84}{cD}{1024,3124}{3.15}{17920}
\glab{l85}{cE}{1085,3124}{2.22}{17920}
\glab{l86}{cD}{1169,3124}{3.15}{17920}
\glab{l87}{cE}{1485,3124}{1.59}{17920}
\glab{l88}{cD}{1541,3124}{3.19}{14384}
\glab{l89}{cC}{1435,3002}{3.60}{496}
\glab{l90}{cE}{597,3186}{0.46}{17920}
\glab{l91}{cE}{504,3247}{1.13}{43862}
\glab{l92}{cE}{587,3247}{0.27}{10262}
\glab{l93}{cE}{669,3247}{0.73}{28182}
\glab{l94}{cE}{725,3247}{0.26}{10262}
\glab{l95}{cE}{775,3247}{0.68}{26880}
\glab{l96}{cE}{844,3247}{0.38}{20524}
\glab{l97}{cE}{902,3247}{0.50}{26880}
\glab{l98}{cE}{976,3247}{0.68}{26880}
\glab{l99}{cE}{1027,3247}{0.52}{28182}
\glab{l100}{cE}{1085,3247}{0.66}{20524}
\glab{l101}{cE}{1152,3247}{0.50}{26880}
\glab{l102}{cE}{1209,3247}{0.87}{26880}
\glab{l103}{cE}{1272,3247}{0.91}{28182}
\glab{l104}{cE}{1325,3247}{0.87}{26880}
\glab{l105}{cE}{1388,3247}{0.45}{24368}
\glab{l106}{cE}{1449,3247}{0.79}{24368}
\glab{l107}{cE}{1522,3247}{0.27}{14384}
\glab{l108}{cE}{1577,3247}{0.46}{14384}
\glab{l109}{cD}{1821,3247}{3.17}{35840}
\glab{l110}{cE}{814,3369}{2.07}{82318}
\glab{l111}{cE}{1080,3369}{0.93}{149058}
\glab{l112}{cE}{1313,3369}{2.57}{149058}
\glab{l113}{cD}{1821,3369}{3.17}{35840}
\glab{l114}{cE}{817,3492}{2.56}{102055}
\glab{l115}{cE}{1313,3492}{2.56}{149058}
\glab{l116}{cD}{1821,3492}{3.16}{35840}
\glab{l117}{cE}{817,3615}{2.55}{102055}
\glab{l118}{cE}{1313,3615}{2.35}{149058}
\glab{l119}{cD}{1824,3615}{3.06}{215040}
\glab{l120}{cE}{817,3738}{2.54}{408220}
\glab{l121}{cE}{1923,3738}{2.11}{215040}
\glab{l122}{cE}{1769,3799}{0.95}{215040}
\glab{l123}{cE}{817,3860}{1.27}{408220}
\glab{l124}{cE}{1923,3860}{0.95}{215040}
\glab{l125}{cE}{817,3983}{2.49}{816440}
\glab{l126}{cE}{1823,3983}{2.77}{645120}
\glab{l127}{cE}{1823,4106}{2.42}{645120}
\glab{l128}{cE}{1823,4228}{2.42}{645120}
\end{tikzpicture}
\end{document}
